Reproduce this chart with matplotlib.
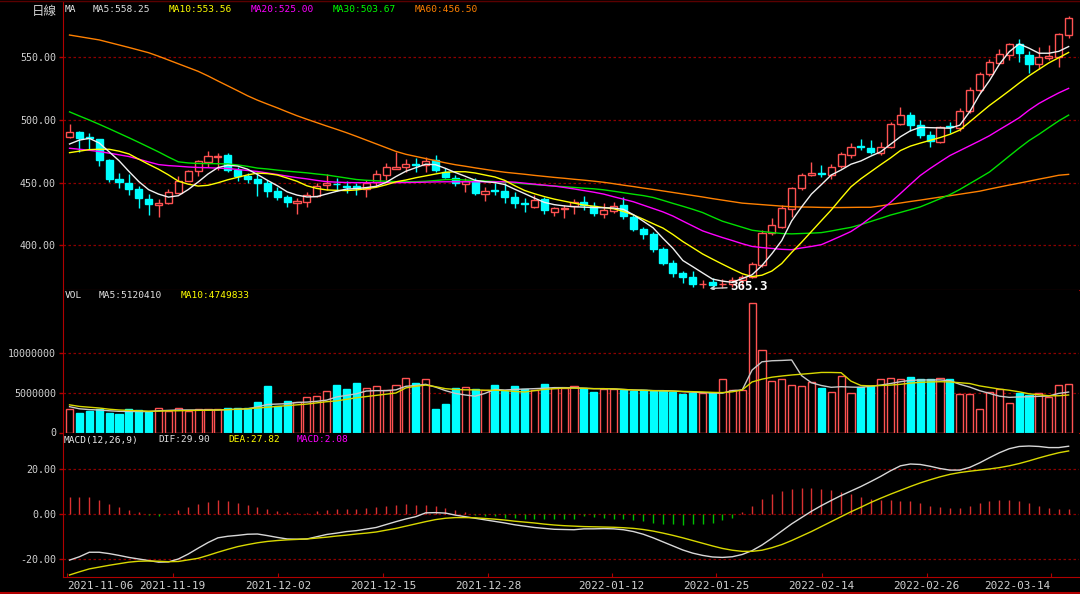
import numpy as np
import matplotlib.pyplot as plt

# -----------------------------
# DATA
# -----------------------------
# date ticks sit between bars on the original axis (bar-index units)
tick_pos = [-0.28, 10.44, 21.07, 31.69, 42.31, 54.79, 65.38, 76.04, 86.66, 99.2]
tick_lbl = ['2021-11-06', '2021-11-19', '2021-12-02', '2021-12-15', '2021-12-28',
            '2022-01-12', '2022-01-25', '2022-02-14', '2022-02-26', '2022-03-14']

opens = [486.0, 490.5, 486.2, 484.4, 468.0, 452.8, 449.4, 444.6, 437.1, 432.1,
         433.4, 442.0, 451.5, 459.0, 466.3, 470.6, 472.0, 460.0, 455.2, 453.1,
         449.9, 443.5, 438.7, 433.4, 434.7, 439.3, 447.8, 449.0, 447.0, 447.2,
         444.6, 450.4, 456.3, 461.0, 462.1, 464.5, 464.0, 468.0, 458.6, 453.4,
         448.8, 451.5, 440.9, 443.8, 443.5, 438.7, 433.6, 430.7, 436.6, 426.8,
         429.0, 431.3, 434.7, 431.3, 424.9, 427.3, 432.1, 422.8, 412.7, 408.8,
         396.8, 385.6, 377.7, 374.5, 369.0, 371.0, 369.0, 369.2, 372.4, 375.0,
         384.3, 410.0, 414.8, 428.9, 445.4, 456.0, 457.8, 456.0, 463.2, 472.0,
         478.8, 477.7, 473.8, 478.0, 496.6, 503.8, 495.8, 487.9, 482.5, 494.8,
         493.2, 507.0, 523.7, 536.2, 545.5, 551.6, 560.1, 551.6, 544.2, 549.4,
         549.7, 567.5]
highs = [496.4, 491.0, 489.2, 485.0, 468.5, 457.3, 456.8, 447.2, 440.6, 436.6,
         444.6, 455.2, 460.0, 468.0, 475.1, 473.3, 473.8, 462.6, 457.8, 457.3,
         452.0, 446.2, 440.1, 437.4, 442.5, 449.4, 456.8, 453.8, 451.5, 449.9,
         452.0, 460.0, 465.8, 474.6, 469.0, 469.3, 470.6, 471.9, 461.3, 456.0,
         453.4, 453.4, 446.7, 449.9, 449.9, 442.7, 437.4, 440.1, 438.7, 430.7,
         432.1, 436.6, 439.3, 434.7, 433.9, 434.7, 438.7, 424.1, 414.3, 410.9,
         398.9, 388.3, 379.8, 379.8, 372.4, 373.7, 372.9, 375.0, 376.3, 387.0,
         412.2, 421.5, 432.1, 446.7, 457.8, 466.6, 464.0, 464.8, 474.6, 481.2,
         484.4, 483.9, 482.5, 498.5, 509.9, 506.4, 499.8, 491.3, 495.0, 498.5,
         509.1, 525.9, 538.3, 548.2, 556.1, 561.4, 564.1, 555.0, 558.2, 559.6,
         569.4, 582.7]
lows = [485.5, 474.1, 475.9, 463.4, 450.7, 445.4, 440.1, 429.5, 424.1, 422.3,
        432.9, 441.4, 451.0, 455.0, 462.6, 460.0, 458.6, 451.2, 449.4, 439.5,
        438.2, 436.0, 430.3, 424.9, 430.7, 438.7, 444.0, 443.5, 441.9, 440.1,
        438.7, 446.7, 452.0, 460.5, 458.6, 458.6, 458.6, 458.6, 453.4, 447.2,
        442.7, 440.1, 435.5, 440.1, 433.9, 429.5, 426.8, 429.5, 424.9, 423.3,
        421.5, 424.9, 428.1, 423.3, 421.5, 426.0, 420.7, 411.6, 404.8, 394.9,
        384.3, 375.0, 370.2, 367.0, 365.7, 365.3, 365.7, 367.0, 367.0, 373.7,
        383.0, 408.2, 413.5, 422.8, 444.1, 455.5, 454.6, 452.6, 461.3, 469.3,
        475.9, 472.7, 471.9, 477.3, 495.8, 491.3, 485.2, 478.5, 481.7, 489.2,
        491.3, 505.1, 522.4, 535.1, 545.0, 547.6, 546.3, 537.5, 540.2, 547.6,
        542.3, 564.9]
closes = [490.5, 485.7, 485.5, 468.0, 452.8, 450.2, 444.6, 437.4, 432.7, 433.7,
          442.4, 451.5, 459.2, 467.0, 471.1, 471.4, 460.0, 455.2, 453.1, 449.9,
          443.5, 438.7, 434.7, 435.0, 440.1, 447.2, 449.4, 448.6, 446.5, 445.4,
          449.4, 456.8, 462.6, 462.1, 465.0, 464.0, 467.4, 460.0, 454.2, 449.9,
          451.5, 441.4, 443.5, 443.3, 438.7, 433.4, 433.2, 436.1, 428.1, 429.5,
          430.0, 434.7, 432.1, 425.5, 428.1, 431.3, 423.3, 412.7, 409.0, 396.8,
          385.6, 377.7, 374.5, 369.2, 369.5, 368.4, 369.5, 372.4, 375.0, 385.1,
          410.0, 416.2, 429.5, 445.4, 456.0, 457.8, 456.8, 462.6, 472.5, 478.5,
          478.3, 474.6, 478.5, 496.6, 503.8, 495.8, 487.9, 483.3, 494.0, 494.3,
          507.2, 523.7, 536.4, 546.3, 552.1, 560.1, 553.0, 544.4, 549.7, 550.8,
          568.1, 580.8]

ma5 = [480.7, 483.8, 485.2, 481.5, 474.5, 467.4, 458.9, 450.8, 444.3, 440.8,
       438.4, 439.5, 444.4, 450.4, 456.8, 461.9, 463.8, 463.1, 460.6, 456.4,
       451.8, 447.5, 442.6, 440.0, 438.5, 438.8, 440.9, 443.0, 444.8, 445.2,
       446.0, 447.0, 450.1, 454.8, 459.0, 461.8, 464.6, 464.2, 461.3, 458.0,
       455.0, 451.8, 450.7, 450.0, 448.4, 444.7, 441.2, 437.6, 434.2, 432.4,
       431.4, 430.7, 430.4, 430.1, 429.9, 429.7, 428.6, 424.4, 419.2, 413.9,
       405.5, 397.6, 387.9, 383.0, 378.0, 373.1, 371.5, 370.5, 373.5, 376.5,
       383.9, 393.3, 403.8, 419.4, 430.5, 440.8, 448.3, 456.0, 460.0, 464.6,
       467.2, 471.0, 474.5, 480.5, 486.5, 491.2, 494.0, 493.7, 493.5, 493.3,
       495.7, 506.4, 520.0, 531.2, 544.2, 554.2, 560.4, 557.0, 553.0, 553.0,
       554.5, 558.3]
ma10 = [473.8, 475.0, 476.2, 476.5, 476.5, 475.0, 472.8, 468.6, 464.5, 460.6,
        456.1, 451.1, 448.7, 447.2, 447.8, 449.8, 452.2, 454.2, 456.1, 457.5,
        457.1, 456.0, 453.6, 451.0, 447.4, 445.3, 444.1, 443.8, 443.6, 444.1,
        445.1, 446.2, 448.2, 450.6, 452.0, 453.8, 455.3, 456.8, 458.2, 458.6,
        458.6, 457.6, 456.0, 454.4, 451.7, 447.5, 443.7, 441.1, 438.8, 436.8,
        435.2, 433.6, 432.1, 431.1, 430.1, 429.1, 427.0, 424.2, 420.8, 417.2,
        413.7, 408.6, 403.0, 398.1, 393.1, 389.0, 385.0, 381.1, 377.4, 375.1,
        376.2, 379.5, 385.5, 394.3, 402.4, 411.0, 419.6, 428.1, 437.5, 446.6,
        453.0, 458.6, 464.2, 469.6, 475.5, 479.0, 481.4, 483.6, 485.8, 488.4,
        491.8, 498.3, 504.9, 511.4, 517.2, 523.1, 529.2, 535.0, 540.2, 545.3,
        549.4, 553.6]
ma20 = [477.3, 476.5, 475.7, 474.7, 473.4, 472.1, 470.7, 468.6, 466.4, 464.3,
        463.5, 463.0, 462.4, 462.0, 461.8, 461.5, 461.2, 460.4, 459.6, 458.8,
        457.6, 456.4, 455.1, 453.9, 452.9, 451.7, 450.7, 450.3, 450.0, 449.9,
        449.9, 449.9, 449.9, 449.9, 450.0, 450.1, 450.3, 450.5, 450.6, 450.6,
        450.6, 450.6, 450.6, 450.6, 450.6, 450.3, 449.5, 448.7, 447.9, 447.2,
        446.1, 444.9, 443.6, 442.3, 440.8, 438.7, 436.7, 434.7, 432.0, 429.3,
        426.6, 423.3, 419.3, 415.4, 411.5, 408.8, 406.2, 403.8, 401.3, 399.1,
        398.2, 397.5, 396.8, 396.5, 397.9, 399.1, 400.5, 403.9, 407.4, 411.0,
        416.2, 422.2, 428.0, 434.2, 441.3, 448.5, 455.6, 461.2, 466.4, 471.5,
        475.4, 479.3, 483.2, 487.3, 492.1, 496.8, 501.6, 507.7, 513.0, 517.3,
        521.4, 525.0]
ma30 = [506.3, 503.0, 499.8, 496.4, 492.9, 489.3, 485.7, 482.0, 478.2, 474.4,
        470.3, 466.5, 465.6, 465.2, 465.1, 465.0, 464.8, 464.0, 462.9, 461.5,
        460.8, 459.9, 459.1, 458.4, 457.7, 456.8, 456.0, 454.8, 453.6, 452.4,
        451.8, 451.4, 451.0, 450.7, 450.7, 450.7, 451.0, 451.6, 452.3, 452.4,
        452.0, 451.6, 451.2, 450.8, 450.3, 449.7, 449.0, 448.4, 447.8, 447.2,
        446.7, 446.1, 445.5, 445.0, 444.2, 443.1, 441.9, 440.7, 439.6, 438.1,
        435.8, 433.4, 431.1, 428.7, 426.1, 422.6, 419.2, 416.8, 414.4, 412.0,
        411.0, 410.2, 409.4, 409.1, 409.4, 409.7, 410.1, 411.4, 412.9, 414.3,
        416.5, 419.0, 421.5, 424.1, 426.2, 428.4, 430.6, 433.8, 437.1, 440.4,
        444.5, 449.1, 453.7, 458.4, 464.7, 471.1, 477.4, 483.4, 488.4, 493.8,
        499.1, 503.7]
ma60 = [567.5, 566.2, 564.9, 563.6, 561.6, 559.6, 557.6, 555.5, 553.4, 550.6,
        547.6, 544.6, 541.6, 538.6, 534.9, 530.9, 527.0, 523.1, 519.1, 515.6,
        512.5, 509.5, 506.3, 503.2, 500.4, 497.7, 495.0, 492.4, 489.7, 486.8,
        483.8, 480.8, 477.8, 474.8, 472.5, 470.8, 469.1, 467.4, 465.7, 464.2,
        463.0, 461.7, 460.5, 459.3, 458.2, 457.4, 456.6, 455.7, 454.9, 454.1,
        453.4, 452.6, 451.9, 451.1, 450.2, 449.1, 447.9, 446.8, 445.6, 444.5,
        443.3, 442.1, 440.9, 439.7, 438.5, 437.2, 436.0, 434.8, 433.6, 433.0,
        432.4, 431.8, 431.2, 430.7, 430.5, 430.4, 430.2, 430.1, 430.1, 430.2,
        430.3, 430.3, 431.4, 432.6, 433.7, 434.9, 436.0, 437.2, 438.4, 439.5,
        440.7, 441.9, 443.1, 444.8, 446.4, 448.0, 449.5, 451.1, 452.7, 454.2,
        455.8, 456.5]

# volume in millions of shares
vol_m = [2.97, 2.47, 2.76, 2.93, 2.51, 2.38, 2.97, 2.85, 2.55, 3.10,
         2.76, 3.10, 2.76, 2.97, 2.97, 2.93, 3.10, 3.10, 3.10, 3.86,
         5.89, 3.35, 3.99, 3.86, 4.45, 4.62, 5.25, 5.97, 5.50, 6.22,
         5.59, 5.93, 5.38, 6.05, 6.86, 6.22, 6.73, 2.97, 3.61, 5.59,
         5.72, 5.47, 5.38, 5.97, 5.25, 5.85, 5.55, 5.38, 6.10, 5.63,
         5.63, 5.85, 5.67, 5.13, 5.55, 5.47, 5.34, 5.21, 5.38, 5.21,
         5.21, 5.17, 4.87, 5.04, 4.96, 4.96, 6.73, 5.38, 5.38, 16.35,
         10.44, 6.48, 6.73, 5.97, 5.85, 6.35, 5.59, 5.09, 7.11, 4.96,
         5.72, 5.85, 6.73, 6.86, 6.73, 6.99, 6.73, 6.73, 6.86, 6.73,
         4.84, 4.84, 2.97, 5.09, 5.47, 3.70, 4.96, 4.71, 4.96, 4.45,
         5.97, 6.10]
vol_ma5_m = [3.27, 3.00, 2.90, 2.85, 2.75, 2.68, 2.66, 2.66, 2.64, 2.75,
             2.80, 2.85, 2.85, 2.85, 2.85, 2.85, 2.90, 2.95, 3.00, 3.25,
             3.55, 3.60, 3.65, 3.80, 3.85, 3.95, 4.10, 4.50, 4.70, 4.90,
             5.25, 5.30, 5.30, 5.40, 5.85, 5.95, 6.10, 5.75, 5.30, 4.95,
             4.75, 4.60, 4.95, 5.45, 5.38, 5.45, 5.50, 5.55, 5.60, 5.68,
             5.68, 5.66, 5.60, 5.55, 5.55, 5.52, 5.45, 5.38, 5.35, 5.30,
             5.30, 5.25, 5.17, 5.10, 5.05, 5.00, 4.98, 5.30, 5.38, 7.90,
             8.95, 9.08, 9.12, 9.18, 7.20, 6.30, 5.95, 5.72, 5.80, 5.75,
             5.72, 5.85, 6.00, 6.20, 6.43, 6.60, 6.65, 6.65, 6.65, 6.56,
             6.10, 5.75, 5.30, 4.95, 4.60, 4.45, 4.50, 4.53, 4.58, 4.62,
             4.95, 5.12]
vol_ma10_m = [3.50, 3.30, 3.20, 3.10, 2.95, 2.85, 2.80, 2.75, 2.70, 2.70,
              2.75, 2.75, 2.78, 2.80, 2.82, 2.85, 2.90, 2.95, 3.00, 3.10,
              3.20, 3.30, 3.40, 3.50, 3.60, 3.75, 3.90, 4.00, 4.20, 4.40,
              4.55, 4.70, 4.85, 5.00, 5.65, 5.85, 6.00, 5.80, 5.55, 5.45,
              5.40, 5.40, 5.35, 5.35, 5.30, 5.20, 5.13, 5.30, 5.45, 5.55,
              5.62, 5.62, 5.60, 5.55, 5.55, 5.52, 5.45, 5.38, 5.35, 5.30,
              5.27, 5.25, 5.20, 5.17, 5.13, 5.08, 5.05, 5.15, 5.38, 6.40,
              6.75, 7.00, 7.15, 7.28, 7.38, 7.48, 7.60, 7.60, 7.57, 6.50,
              5.95, 5.90, 5.95, 6.00, 6.10, 6.25, 6.35, 6.40, 6.43, 6.40,
              6.30, 6.20, 5.90, 5.70, 5.50, 5.35, 5.15, 4.90, 4.78, 4.65,
              4.65, 4.75]

dif = [-20.7, -19.2, -17.2, -17.2, -17.8, -18.6, -19.5, -20.2, -20.9, -21.6,
       -21.5, -20.2, -18.0, -15.4, -12.9, -10.8, -10.1, -9.7, -9.2, -9.1,
       -9.8, -10.6, -11.3, -11.4, -11.3, -10.3, -9.3, -8.7, -8.0, -7.6,
       -6.9, -6.2, -4.9, -3.6, -2.4, -1.4, 0.3, 0.4, 0.2, -0.7,
       -1.4, -2.1, -2.8, -3.5, -4.2, -5.0, -5.6, -6.2, -6.6, -7.0,
       -7.1, -7.2, -6.8, -6.8, -6.7, -6.8, -7.2, -8.0, -9.2, -10.8,
       -12.6, -14.4, -16.2, -17.6, -18.6, -19.3, -19.5, -19.2, -18.2, -16.5,
       -14.0, -11.0, -7.8, -4.6, -1.8, 1.0, 3.5, 5.8, 8.0, 10.0,
       12.0, 14.2, 16.5, 19.0, 21.2, 22.0, 21.8, 21.0, 20.0, 19.3,
       19.3, 20.5, 22.5, 24.8, 27.0, 28.8, 29.8, 30.0, 29.8, 29.3,
       29.3, 29.9]
dea = [-27.3, -25.9, -24.6, -23.8, -23.0, -22.3, -21.6, -21.2, -21.1, -21.2,
       -21.4, -21.3, -20.6, -19.9, -18.6, -17.2, -15.9, -14.7, -13.8, -13.0,
       -12.4, -12.0, -11.7, -11.5, -11.3, -10.9, -10.5, -10.0, -9.6, -9.1,
       -8.7, -8.2, -7.4, -6.6, -5.6, -4.6, -3.6, -2.7, -2.1, -1.8,
       -1.8, -1.9, -2.2, -2.5, -2.9, -3.4, -3.8, -4.2, -4.7, -5.1,
       -5.4, -5.6, -5.8, -5.9, -6.0, -6.1, -6.3, -6.6, -7.1, -7.8,
       -8.7, -9.7, -10.8, -12.0, -13.2, -14.4, -15.5, -16.3, -16.8, -16.8,
       -16.3, -15.2, -13.8, -12.0, -10.0, -8.0, -5.8, -3.6, -1.4, 0.8,
       2.8, 4.9, 6.8, 8.6, 10.3, 12.0, 13.6, 15.0, 16.3, 17.4,
       18.2, 18.8, 19.3, 19.8, 20.4, 21.2, 22.2, 23.4, 24.7, 25.9,
       27.0, 27.8]
macd = [7.5, 7.5, 7.5, 6.0, 4.2, 3.0, 1.5, 0.6, -0.6, -1.0,
        0.0, 1.5, 3.0, 4.2, 5.1, 6.0, 5.4, 4.8, 3.8, 3.0,
        1.8, 1.0, 0.6, 0.1, 0.1, 1.0, 1.5, 2.0, 2.0, 2.0,
        2.4, 3.0, 3.3, 3.8, 4.2, 3.8, 3.8, 3.3, 2.3, 1.5,
        0.8, -0.8, -1.2, -1.2, -1.8, -2.0, -2.3, -2.3, -2.6, -2.6,
        -2.4, -2.5, -1.2, -1.5, -2.0, -2.4, -2.6, -3.0, -3.5, -4.0,
        -4.5, -4.8, -5.0, -4.8, -4.5, -4.0, -3.0, -2.0, 0.5, 3.5,
        6.5, 8.5, 10.0, 10.8, 11.3, 11.3, 11.0, 10.5, 9.5, 8.5,
        7.5, 6.5, 6.0, 6.0, 5.5, 5.5, 4.5, 3.5, 3.0, 2.5,
        2.5, 3.5, 4.5, 5.5, 6.0, 6.0, 5.5, 4.5, 3.5, 2.5,
        2.2, 2.1]

# -----------------------------
# STYLE
# -----------------------------
BG = 'black'
RED = '#ff5252'
CYAN = '#00ffff'
AXRED = '#b00000'
GRID = '#8c0000'
TXT = '#d0d0d0'
MONO = 'DejaVu Sans Mono'

W, H = 1080, 594
fig = plt.figure(figsize=(W / 100, H / 100), dpi=100, facecolor=BG)


def px_axes(x0, y0, x1, y1):
    return fig.add_axes([x0 / W, 1 - y1 / H, (x1 - x0) / W, (y1 - y0) / H], facecolor=BG)


def ftext(x, y, s, color=TXT, size=6.8, **kw):
    fig.text(x / W, 1 - y / H, s, color=color, fontsize=size, va='center',
             family=kw.pop('family', MONO), **kw)


def style_axis(ax, yticks, ylabels, grid_zero=False):
    for side in ['top', 'right']:
        ax.spines[side].set_visible(False)
    ax.spines['left'].set_color(AXRED)
    ax.spines['bottom'].set_color(AXRED)
    ax.set_yticks(yticks)
    ax.set_yticklabels(ylabels, family=MONO, fontsize=7.2, color=TXT)
    ax.tick_params(axis='y', colors=AXRED, length=3, width=1, pad=2, labelcolor=TXT)
    for t in yticks:
        if t != 0 or grid_zero:
            ax.axhline(t, color=GRID, lw=0.9, ls=(0, (2, 2)), zorder=0)
    ax.set_xlim(-0.66, 102.05)


n = len(closes)
x = np.arange(n)
up = np.array(closes) >= np.array(opens)

ax_main = px_axes(63, 1, 1079, 289.5)
ax_vol = px_axes(63, 289.5, 1079, 432.5)
ax_macd = px_axes(63, 432.5, 1079, 577)

# -----------------------------
# PRICE PANEL
# -----------------------------
o = np.array(opens); c = np.array(closes)
body_lo = np.minimum(o, c)
body_h = np.maximum(np.abs(c - o), 0.35)
cols = np.where(up, RED, CYAN)
ax_main.vlines(x, lows, highs, colors=cols, lw=1, zorder=2)
ax_main.bar(x, body_h, 0.72, bottom=body_lo, color=np.where(up, BG, CYAN),
            edgecolor=cols, linewidth=1, zorder=3)

ax_main.plot(x, ma60, color='#ff8000', lw=1, zorder=4)
ax_main.plot(x, ma30, color='#00e000', lw=1, zorder=4)
ax_main.plot(x, ma20, color='#ff00ff', lw=1, zorder=4)
ax_main.plot(x, ma10, color='#ffff00', lw=1, zorder=4)
ax_main.plot(x, ma5, color='#f0f0f0', lw=1, zorder=4)

ax_main.set_ylim(364.8, 594.6)
style_axis(ax_main, [400, 450, 500, 550], ['400.00', '450.00', '500.00', '550.00'])
ax_main.spines['top'].set_visible(True)
ax_main.spines['top'].set_color('#5a0000')
ax_main.set_xticks([])

low_i = int(np.argmin(lows))
ax_main.annotate('365.3', xy=(low_i - 0.3, lows[low_i] + 0.3), xytext=(low_i + 1.75, lows[low_i] + 1.6),
                 color='white', fontsize=9, fontweight='bold', family=MONO, va='center',
                 arrowprops=dict(arrowstyle='->', color='#d0d0d0', lw=1, shrinkA=0, shrinkB=0,
                                 mutation_scale=6),
                 annotation_clip=False, zorder=6)

# -----------------------------
# VOLUME PANEL
# -----------------------------
v = np.array(vol_m) * 1e6
ax_vol.bar(x, v, 0.72, color=np.where(up, BG, CYAN), edgecolor=cols, linewidth=1, zorder=2)
ax_vol.plot(x, np.array(vol_ma5_m) * 1e6, color='#c8c8c8', lw=1, zorder=3)
ax_vol.plot(x, np.array(vol_ma10_m) * 1e6, color='#d8d800', lw=1, zorder=3)
ax_vol.set_ylim(0, 18.1e6)
style_axis(ax_vol, [0, 5e6, 10e6], ['0', '5000000', '10000000'])
ax_vol.set_xticks([])

# -----------------------------
# MACD PANEL
# -----------------------------
m = np.array(macd)
ax_macd.vlines(x, 0, m, colors=np.where(m >= 0, '#d83030', '#00c000'), lw=1, zorder=2)
ax_macd.plot(x, dif, color='#d8d8d8', lw=1, zorder=3)
ax_macd.plot(x, dea, color='#d8d800', lw=1, zorder=3)
ax_macd.set_ylim(-28.2, 36.0)
style_axis(ax_macd, [-20, 0, 20], ['-20.00', '0.00', '20.00'], grid_zero=True)
ax_macd.set_xticks(tick_pos)
ax_macd.set_xticklabels(tick_lbl, family=MONO, fontsize=7.9, color=TXT)
ax_macd.tick_params(axis='x', direction='in', colors=AXRED, length=3, pad=3, labelcolor=TXT)
lbls = ax_macd.get_xticklabels()
lbls[0].set_ha('left')
lbls[-1].set_ha('right')

# -----------------------------
# HEADERS
# -----------------------------
ftext(57, 11, '日線', size=9, ha='right', family=['Noto Sans CJK TC', 'DejaVu Sans'])
ftext(65, 10, 'MA', color='#e8e8e8')
ftext(92.7, 10, 'MA5:558.25', color='#e0e0e0')
ftext(168.3, 10, 'MA10:553.56', color='#ffff00')
ftext(250.7, 10, 'MA20:525.00', color='#ff00ff')
ftext(332.7, 10, 'MA30:503.67', color='#00ff00')
ftext(415, 10, 'MA60:456.50', color='#ff8000')

ftext(65, 296, 'VOL', color='#e8e8e8')
ftext(99, 296, 'MA5:5120410', color='#e0e0e0')
ftext(181, 296, 'MA10:4749833', color='#ffff00')

ftext(64, 440, 'MACD(12,26,9)', color='#e8e8e8')
ftext(158.3, 440, 'DIF:29.90', color='#e0e0e0')
ftext(228.3, 440, 'DEA:27.82', color='#ffff00')
ftext(296.7, 440, 'MACD:2.08', color='#ff00ff')

# frame lines across the whole figure
fig.add_artist(plt.Line2D([0, 1], [1 - 593 / H, 1 - 593 / H], color=AXRED, lw=1.5))
fig.add_artist(plt.Line2D([0, 1], [1 - 0.5 / H, 1 - 0.5 / H], color='#5a0000', lw=1))

fig.savefig('out.png', dpi=100, facecolor=BG)
